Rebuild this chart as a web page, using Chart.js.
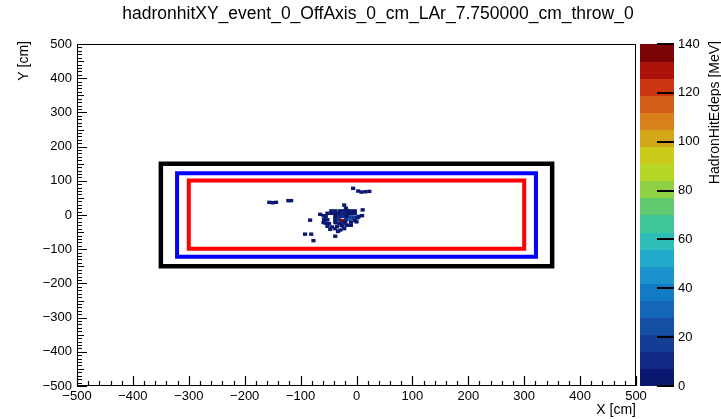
<!DOCTYPE html>
<html><head><meta charset="utf-8">
<script src="https://cdn.jsdelivr.net/npm/chart.js@4/dist/chart.umd.min.js"></script>
<style>html,body{margin:0;padding:0;background:#fff}#wrap{width:721px;height:419px;position:relative}</style>
</head><body><div id="wrap"><canvas id="c" width="721" height="419"></canvas></div>
<script>
// ---------- data ----------
const chartTitle = 'hadronhitXY_event_0_OffAxis_0_cm_LAr_7.750000_cm_throw_0';
const xTitle = 'X [cm]';
const yTitle = 'Y [cm]';
const zTitle = 'HadronHitEdeps [MeV]';
const xRange = [-500, 500];
const yRange = [-500, 500];
const zRange = [0, 140];
const xTickStep = 100, yTickStep = 100, zTickStep = 20;

// hit cells (centres in cm) and energy deposit (MeV)
const hitX = [-156,-150,-144,-122,-117,
  -6,3,9,16,23,
  -22,-19,-30,-24,-17,-10,11,-45,-38,-3,
  -52,-45,-38,-31,-24,-17,-10,-3,-65,-59,
  -55,-38,-31,-24,-17,-10,-3,4,10,
  -83,-58,-52,-38,-31,-26,-19,-12,-5,2,
  -59,-55,-49,-38,-31,-24,-20,-10,-3,0,
  -52,-44,-35,-27,-25,-17,-10,
  -47,-38,-29,-33,-22,
  -92,-81,-77,-38];
const hitY = [37,36,37,42,42,
  78,70,67,68,69,
  29,20,12,12,13,12,15,12,12,12,
  5,5,5,5,5,5,4,5,2,-2,
  -5,-4,-4,-4,-5,-6,-6,-4,-2,
  -15,-13,-14,-13,-14,-17,-14,-12,-10,-8,
  -22,-24,-25,-22,-24,-24,-22,-21,-16,-20,
  -33,-35,-33,-30,-32,-30,-30,
  -42,-40,-44,-48,-40,
  -56,-56,-75,-62];
const hitE = [3,4,3,4,3,
  3,3,4,3,3,
  3,4,3,5,4,3,3,3,4,3,
  3,3,4,6,8,4,3,4,3,3,
  4,5,10,12,6,20,18,4,3,
  3,3,5,6,8,135,9,25,15,5,
  3,4,3,5,6,7,4,3,4,3,
  3,4,5,4,3,3,3,
  3,4,3,3,3,
  3,3,3,3];

// detector outlines
const boxBlackX = [-350, 350, 350, -350, -350];
const boxBlackY = [-150, -150, 150, 150, -150];
const boxBlueX  = [-321, 321, 321, -321, -321];
const boxBlueY  = [-122, -122, 122, 122, -122];
const boxRedX   = [-300, 300, 300, -300, -300];
const boxRedY   = [-99, -99, 101, 101, -99];

// palette: 20 bands
const paletteColors = [
  '#0b1870','#102a86','#143d96','#1550a6','#1466b6','#137bc6','#1a92cc','#22aacc',
  '#2ebdb8','#3fc79a','#5fcb6e','#8ed144','#b6d825','#cccb1c','#d4a61a','#d8811a',
  '#d25e18','#cc3414','#ac120a','#7c0404'];

// ---------- styles ----------
const FONT = 'Liberation Sans, Arial, Helvetica, sans-serif';
const binW = 7.5, binH = 10;

function fmt(v){ return v < 0 ? '\u2212' + Math.abs(v) : String(v); }
function pts(xs, ys){ return xs.map((x,i)=>({x:x, y:ys[i]})); }
function colorFor(e){
  const n = paletteColors.length;
  let i = Math.floor((e - zRange[0]) / (zRange[1]-zRange[0]) * n);
  i = Math.max(0, Math.min(n-1, i));
  return paletteColors[i];
}

const decor = {
  id: 'rootDecor',
  beforeDatasetsDraw(chart){
    const ctx = chart.ctx, xs = chart.scales.x, ys = chart.scales.y;
    ctx.save();
    for (let i=0;i<hitX.length;i++){
      const x0 = xs.getPixelForValue(hitX[i]-binW/2), x1 = xs.getPixelForValue(hitX[i]+binW/2);
      const y0 = ys.getPixelForValue(hitY[i]+binH/2), y1 = ys.getPixelForValue(hitY[i]-binH/2);
      ctx.fillStyle = colorFor(hitE[i]);
      ctx.fillRect(x0, y0, x1-x0, y1-y0);
    }
    ctx.restore();
  },
  afterDraw(chart){
    const ctx = chart.ctx, a = chart.chartArea;
    const xs = chart.scales.x, ys = chart.scales.y, zs = chart.scales.z;
    ctx.save();
    // frame
    ctx.strokeStyle = '#000'; ctx.lineWidth = 1;
    ctx.strokeRect(a.left+0.5, a.top+0.5, a.right-a.left-1, a.bottom-a.top-1);
    // x ticks (inside)
    ctx.lineWidth = 1.2;
    ctx.beginPath();
    for (let v=xRange[0]; v<=xRange[1]; v+=20){
      const px = Math.round(xs.getPixelForValue(v))+0.5;
      const len = (v % 100 === 0) ? 10 : 5;
      ctx.moveTo(px, a.bottom); ctx.lineTo(px, a.bottom-len);
    }
    // y ticks (inside)
    for (let v=yRange[0]; v<=yRange[1]; v+=10){
      const py = Math.round(ys.getPixelForValue(v))+0.5;
      const len = (v % 100 === 0) ? 10 : (v % 50 === 0 ? 7 : 5);
      ctx.moveTo(a.left, py); ctx.lineTo(a.left+len, py);
    }
    ctx.stroke();
    // colour bar
    const barL = a.right + 4, barW = 34;
    const n = paletteColors.length, step = (zRange[1]-zRange[0])/n;
    for (let i=0;i<n;i++){
      const yTop = zs.getPixelForValue(zRange[0]+(i+1)*step);
      const yBot = zs.getPixelForValue(zRange[0]+i*step);
      ctx.fillStyle = paletteColors[i];
      ctx.fillRect(barL, Math.floor(yTop), barW, Math.ceil(yBot)-Math.floor(yTop));
    }
    ctx.strokeStyle = '#000'; ctx.lineWidth = 2;
    ctx.beginPath();
    for (let v=zRange[0]; v<=zRange[1]; v+=zTickStep){
      const py = Math.round(zs.getPixelForValue(v));
      ctx.moveTo(barL+barW-17, py); ctx.lineTo(barL+barW, py);
    }
    ctx.stroke();
    // titles
    ctx.fillStyle = '#000';
    ctx.font = '17.5px ' + FONT;
    ctx.textAlign = 'center'; ctx.textBaseline = 'middle';
    ctx.fillText(chartTitle, 378, 14);
    ctx.font = '14px ' + FONT;
    ctx.textAlign = 'right'; ctx.textBaseline = 'middle';
    ctx.fillText(xTitle, a.right, 410);
    ctx.save();
    ctx.translate(24, a.top-3); ctx.rotate(-Math.PI/2);
    ctx.textAlign = 'right'; ctx.textBaseline = 'middle';
    ctx.fillText(yTitle, 0, 0);
    ctx.restore();
    ctx.save();
    ctx.translate(715, a.top-3); ctx.rotate(-Math.PI/2);
    ctx.textAlign = 'right'; ctx.textBaseline = 'middle';
    ctx.fillText(zTitle, 0, 0);
    ctx.restore();
    ctx.restore();
  }
};

const tickFont = {family: FONT, size: 13};
const lineDs = (xs, ys, col, w) => ({
  data: pts(xs, ys), showLine: true, borderColor: col, borderWidth: w, pointRadius: 0,
  fill: false, borderJoinStyle: 'miter', borderCapStyle: 'square', tension: 0
});

new Chart(document.getElementById('c'), {
  type: 'scatter',
  data: { datasets: [
    lineDs(boxBlackX, boxBlackY, '#000000', 4.5),
    lineDs(boxBlueX, boxBlueY, '#0000ff', 4),
    lineDs(boxRedX, boxRedY, '#ff0000', 4)
  ]},
  options: {
    responsive: false, animation: false, devicePixelRatio: 1,
    layout: { padding: { top: 44, left: 0, right: 0, bottom: 0 } },
    plugins: { legend: {display:false}, tooltip: {enabled:false}, title: {display:false} },
    scales: {
      x: { type:'linear', min:xRange[0], max:xRange[1],
           ticks:{ stepSize:xTickStep, color:'#000', font:tickFont, padding:3, maxRotation:0, autoSkip:false, callback: fmt },
           grid:{ display:false, drawTicks:false }, border:{ display:false },
           afterFit: s => { s.height = 33; } },
      y: { type:'linear', min:yRange[0], max:yRange[1],
           ticks:{ stepSize:yTickStep, color:'#000', font:tickFont, padding:5, autoSkip:false, callback: fmt },
           grid:{ display:false, drawTicks:false }, border:{ display:false },
           afterFit: s => { s.width = 77; } },
      z: { type:'linear', axis:'y', position:'right', min:zRange[0], max:zRange[1],
           ticks:{ stepSize:zTickStep, color:'#000', font:tickFont, padding:4, autoSkip:false, callback: fmt },
           grid:{ display:true, drawOnChartArea:false, drawTicks:true, tickLength:38, color:'rgba(0,0,0,0)' },
           border:{ display:false },
           afterFit: s => { s.width = 85; } }
    }
  },
  plugins: [decor]
});
</script></body></html>
